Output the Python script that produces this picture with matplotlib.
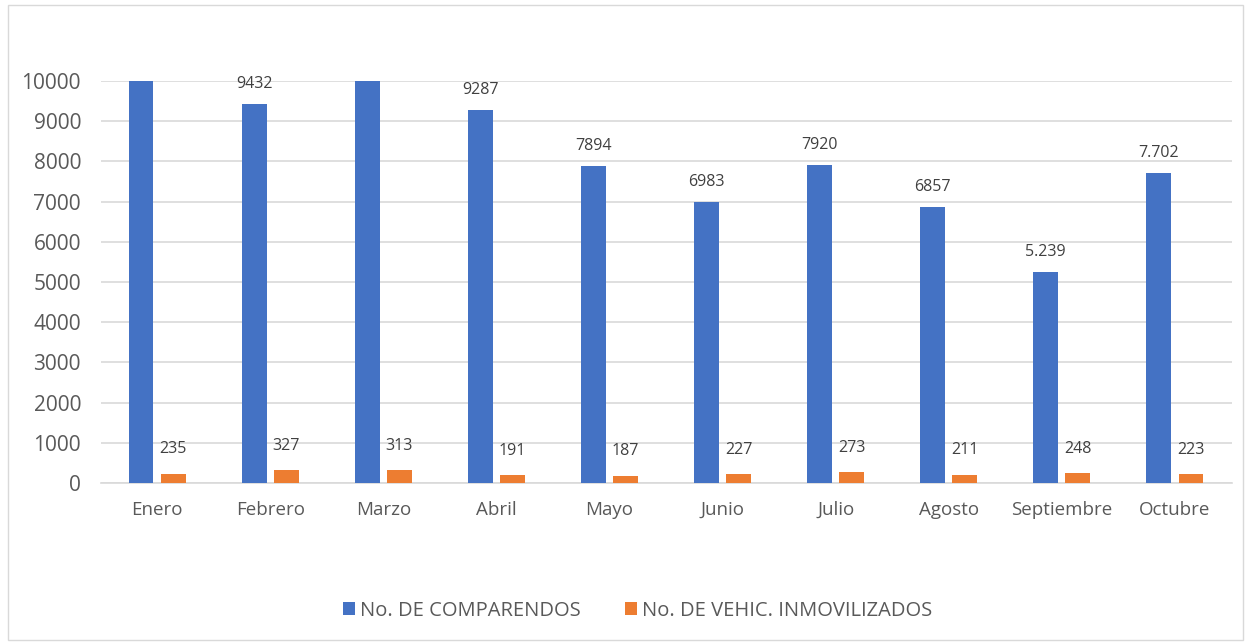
import numpy as np
import matplotlib.pyplot as plt
from matplotlib.patches import Rectangle

meses = ['Enero', 'Febrero', 'Marzo', 'Abril', 'Mayo', 'Junio', 'Julio',
         'Agosto', 'Septiembre', 'Octubre']
# Enero y Marzo superan el eje (recortadas a 10000 en el original)
comparendos = [10800, 9432, 10600, 9287, 7894, 6983, 7920, 6857, 5239, 7702]
etiquetas_comp = ['', '9432', '', '9287', '7894', '6983', '7920', '6857', '5.239', '7.702']
inmovilizados = [235, 327, 313, 191, 187, 227, 273, 211, 248, 223]

azul = '#4472C4'
naranja = '#ED7D31'
gris_txt = '#595959'

plt.rcParams['font.family'] = ['Open Sans', 'DejaVu Sans']

fig = plt.figure(figsize=(12.5, 6.43), dpi=100)
ax = fig.add_axes([0.0804, 0.2488, 0.9048, 0.6252])

x = np.arange(len(meses))
w = 0.22
off = 0.142
ymax = 10000
comp_clip = np.minimum(comparendos, ymax)
ax.bar(x - off, comp_clip, width=w, color=azul, label='No. DE COMPARENDOS', zorder=3)
ax.bar(x + off, inmovilizados, width=w, color=naranja, label='No. DE VEHIC. INMOVILIZADOS', zorder=3)

for i, (v, t) in enumerate(zip(comparendos, etiquetas_comp)):
    if t and v <= ymax:
        ax.text(x[i] - off, v + 300, t, ha='center', va='bottom', fontsize=11.5,
                color='#404040', clip_on=False)
for i, v in enumerate(inmovilizados):
    ax.text(x[i] + off, v + 400, str(v), ha='center', va='bottom', fontsize=11.5,
            color='#404040')

ax.set_xlim(-0.5, len(meses) - 0.5)
ax.set_ylim(0, ymax)
ax.set_yticks(np.arange(0, 10001, 1000))
ax.set_xticks(x)
ax.set_xticklabels(meses)
ax.tick_params(axis='y', length=0, pad=14, labelsize=15, labelcolor=gris_txt)
ax.tick_params(axis='x', length=0, pad=13, labelsize=13.5, labelcolor=gris_txt)
ax.grid(axis='y', color='#D9D9D9', linewidth=1.2, zorder=0)
for s in ['top', 'right', 'left']:
    ax.spines[s].set_visible(False)
ax.spines['bottom'].set_color('#D9D9D9')
ax.spines['bottom'].set_linewidth(1.2)

leg = fig.legend(loc='center', bbox_to_anchor=(0.51, 0.05), ncol=2, frameon=False,
                 fontsize=14.5, handlelength=0.6, handleheight=0.6, handletextpad=0.25,
                 columnspacing=2.2)
for t in leg.get_texts():
    t.set_color(gris_txt)

fig.patches.append(Rectangle((0.006, 0.005), 0.988, 0.988, transform=fig.transFigure,
                             fill=False, edgecolor='#D9D9D9', linewidth=1))

fig.savefig('out.png', dpi=100)
